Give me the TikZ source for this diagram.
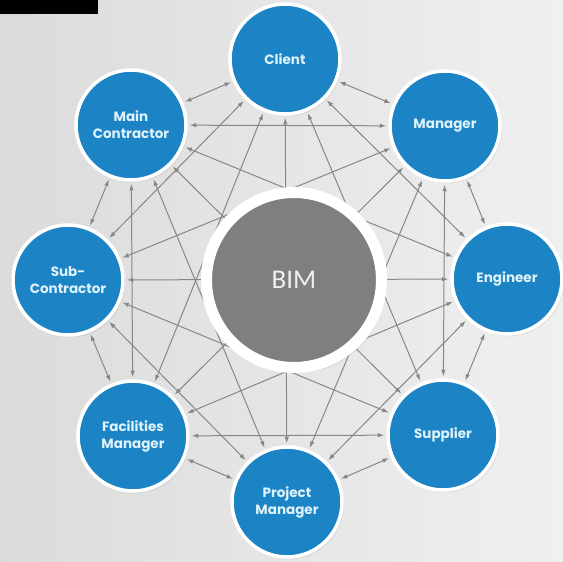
\documentclass[tikz,border=0pt]{standalone}
\usepackage{fontspec}
\newfontfamily\partyfont{Poppins}
\newfontfamily\bimfont{Carlito}
\usetikzlibrary{arrows.meta,shadows}

\definecolor{partyblue}{RGB}{28,132,196}
\definecolor{partytext}{RGB}{222,242,252}
\definecolor{linkgray}{RGB}{135,135,135}
\definecolor{bimgray}{RGB}{127,127,127}

\tikzset{every picture/.style={line width=0.75pt}}
\tikzset{
  party/.style={circle, fill=partyblue, draw=white, line width=3.5pt, minimum size=110pt, inner sep=0pt,
    align=center, text=partytext, font=\partyfont\bfseries\fontsize{13.5}{17}\selectfont,
    drop shadow={opacity=0.12, shadow xshift=2pt, shadow yshift=-2.5pt}},
  link/.style={{Latex[length=6.5pt,width=4.5pt]}-{Latex[length=6.5pt,width=4.5pt]}, draw=linkgray, line width=1pt,
    shorten >=2pt, shorten <=2pt}
}

\begin{document}
\begin{tikzpicture}[x=1pt,y=1pt,yscale=-1]
%Background
\shade[left color=black!14, middle color=black!4, right color=black!6] (0,0) rectangle (563,562);
\useasboundingbox (0,0) rectangle (563,562);
%Shape: Rectangle (black bar)
\fill[black] (0,0) rectangle (98,14);

%Circles: parties
\node[party] (client) at (285,59)  {Client};
\node[party] (mgr)    at (445,126) {Manager};
\node[party] (eng)    at (507,279) {Engineer};
\node[party] (sup)    at (443,435) {Supplier};
\node[party] (pm)     at (287,502) {Project\\Manager};
\node[party] (fac)    at (133,436) {Facilities\\Manager};
\node[party] (sub)    at (68,280)  {Sub-\\Contractor};
\node[party] (main)   at (131,125) {Main\\Contractor};

%Straight Lines: Client
\draw[link] (client) -- (mgr);
\draw[link] (client) -- (eng);
\draw[link] (client) -- (sup);
\draw[link] (client) -- (pm);
\draw[link] (client) -- (fac);
\draw[link] (client) -- (sub);
\draw[link] (client) -- (main);
%Straight Lines: Manager
\draw[link] (mgr) -- (eng);
\draw[link] (mgr) -- (sup);
\draw[link] (mgr) -- (pm);
\draw[link] (mgr) -- (fac);
\draw[link] (mgr) -- (sub);
\draw[link] (mgr) -- (main);
%Straight Lines: Engineer
\draw[link] (eng) -- (sup);
\draw[link] (eng) -- (pm);
\draw[link] (eng) -- (fac);
\draw[link] (eng) -- (sub);
\draw[link] (eng) -- (main);
%Straight Lines: Supplier
\draw[link] (sup) -- (pm);
\draw[link] (sup) -- (fac);
\draw[link] (sup) -- (sub);
\draw[link] (sup) -- (main);
%Straight Lines: Project Manager
\draw[link] (pm) -- (fac);
\draw[link] (pm) -- (sub);
\draw[link] (pm) -- (main);
%Straight Lines: Facilities Manager
\draw[link] (fac) -- (sub);
\draw[link] (fac) -- (main);
%Straight Lines: Sub-Contractor
\draw[link] (sub) -- (main);

%Circle: BIM
\node[circle, fill=bimgray, draw=white, line width=11pt, minimum size=175pt, inner sep=0pt,
  text=white!94!black, font=\bimfont\fontsize{27}{30}\selectfont,
  drop shadow={opacity=0.22, shadow xshift=4pt, shadow yshift=-5pt}] (bim) at (294,280) {BIM};

\end{tikzpicture}
\end{document}
